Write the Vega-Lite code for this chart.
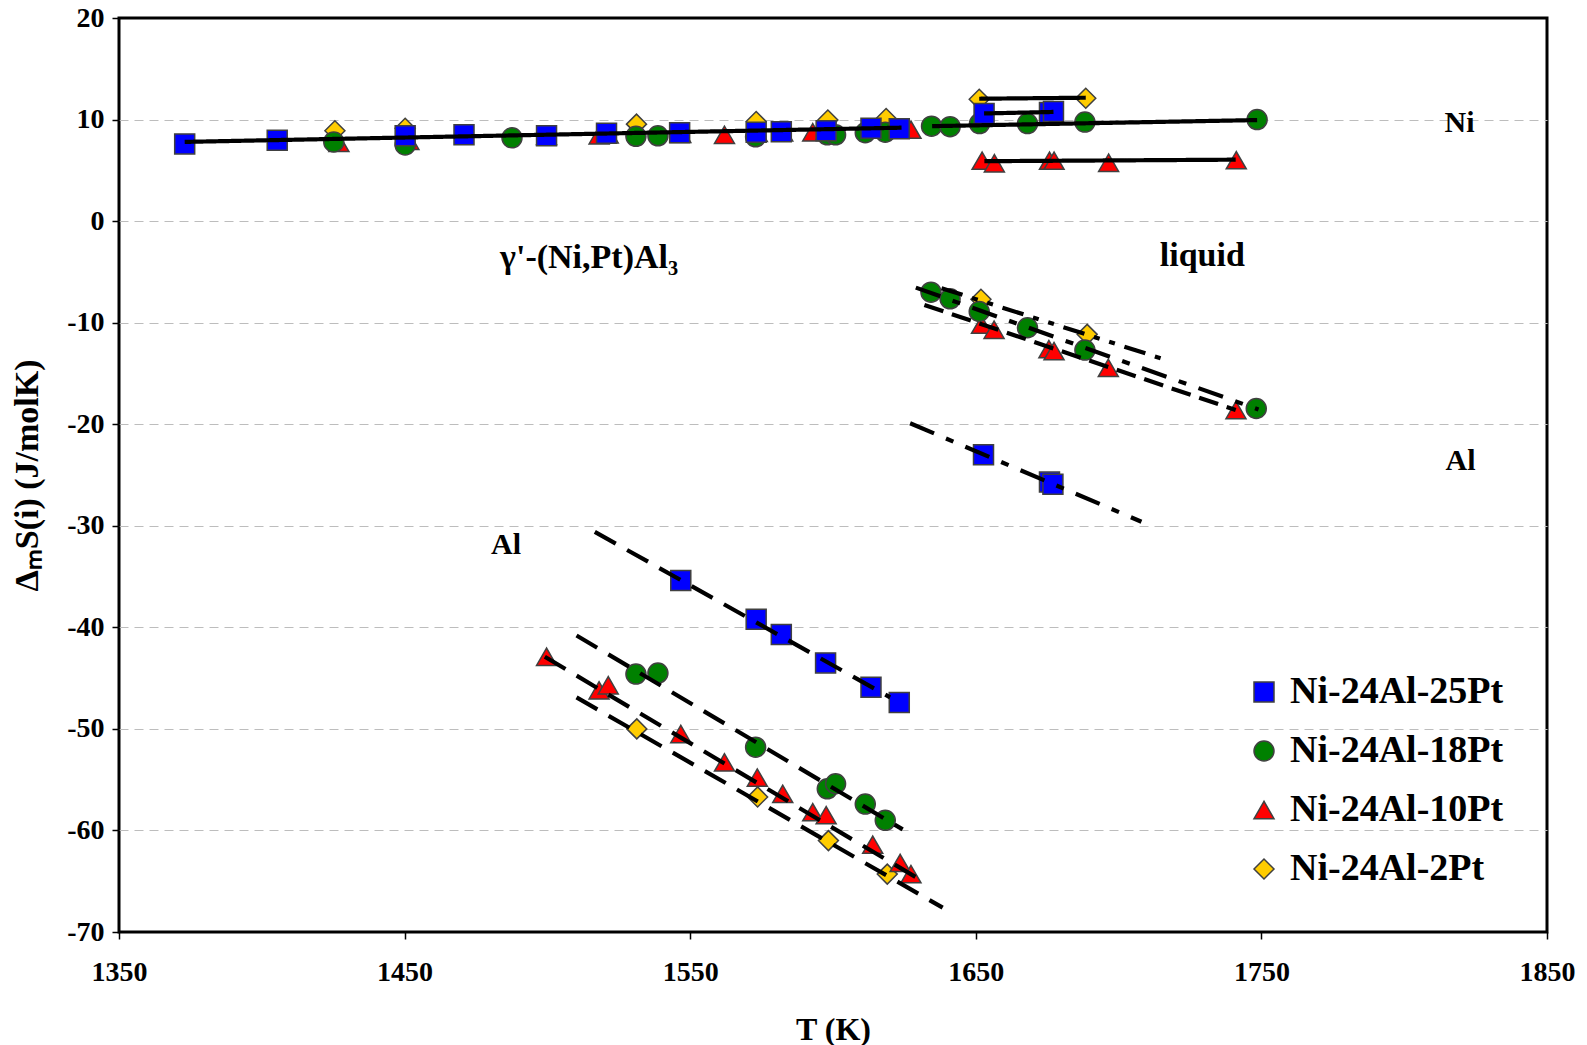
{
  "$schema": "https://vega.github.io/schema/vega-lite/v6.json",
  "autosize": {"type": "none"},
  "padding": {"left": 119, "top": 18, "right": 40, "bottom": 113},
  "width": 1428,
  "height": 914,
  "background": "white",
  "config": {
    "font": "Liberation Serif",
    "view": {"stroke": "black", "strokeWidth": 3},
    "axis": {
      "labelFont": "Liberation Serif", "labelFontWeight": "bold", "labelFontSize": 28, "labelColor": "black",
      "titleFont": "Liberation Serif", "titleFontWeight": "bold", "titleFontSize": 32, "titleColor": "black",
      "tickColor": "black", "tickWidth": 1.5, "tickSize": 7, "domain": false, "labelFlush": false
    },
    "legend": {
      "labelFont": "Liberation Serif", "labelFontWeight": "bold", "labelFontSize": 38, "labelColor": "black", "labelLimit": 0,
      "symbolSize": 400, "symbolStrokeColor": "#404040", "symbolStrokeWidth": 1.5
    }
  },
  "datasets": {
    "pts": [
      {"alloy": "Ni-24Al-2Pt", "T": 1425.6, "S": 8.9},
      {"alloy": "Ni-24Al-2Pt", "T": 1450.2, "S": 9.15},
      {"alloy": "Ni-24Al-2Pt", "T": 1531.2, "S": 9.55},
      {"alloy": "Ni-24Al-2Pt", "T": 1573.1, "S": 9.8},
      {"alloy": "Ni-24Al-2Pt", "T": 1598.2, "S": 9.95},
      {"alloy": "Ni-24Al-2Pt", "T": 1618.6, "S": 10.1},
      {"alloy": "Ni-24Al-2Pt", "T": 1651.2, "S": 12.0},
      {"alloy": "Ni-24Al-2Pt", "T": 1688.5, "S": 12.1},
      {"alloy": "Ni-24Al-2Pt", "T": 1651.8, "S": -7.7},
      {"alloy": "Ni-24Al-2Pt", "T": 1689.0, "S": -11.15},
      {"alloy": "Ni-24Al-2Pt", "T": 1531.3, "S": -50.0},
      {"alloy": "Ni-24Al-2Pt", "T": 1573.6, "S": -56.7},
      {"alloy": "Ni-24Al-2Pt", "T": 1598.4, "S": -61.0},
      {"alloy": "Ni-24Al-2Pt", "T": 1619.0, "S": -64.3},

      {"alloy": "Ni-24Al-10Pt", "T": 1427.0, "S": 7.7},
      {"alloy": "Ni-24Al-10Pt", "T": 1451.5, "S": 7.9},
      {"alloy": "Ni-24Al-10Pt", "T": 1499.7, "S": 8.4},
      {"alloy": "Ni-24Al-10Pt", "T": 1518.1, "S": 8.45},
      {"alloy": "Ni-24Al-10Pt", "T": 1521.3, "S": 8.55},
      {"alloy": "Ni-24Al-10Pt", "T": 1546.7, "S": 8.6},
      {"alloy": "Ni-24Al-10Pt", "T": 1562.0, "S": 8.5},
      {"alloy": "Ni-24Al-10Pt", "T": 1573.5, "S": 8.7},
      {"alloy": "Ni-24Al-10Pt", "T": 1582.4, "S": 8.75},
      {"alloy": "Ni-24Al-10Pt", "T": 1592.9, "S": 8.75},
      {"alloy": "Ni-24Al-10Pt", "T": 1597.6, "S": 8.9},
      {"alloy": "Ni-24Al-10Pt", "T": 1613.9, "S": 9.05},
      {"alloy": "Ni-24Al-10Pt", "T": 1623.5, "S": 9.1},
      {"alloy": "Ni-24Al-10Pt", "T": 1627.3, "S": 9.0},
      {"alloy": "Ni-24Al-10Pt", "T": 1652.2, "S": 5.95},
      {"alloy": "Ni-24Al-10Pt", "T": 1656.5, "S": 5.7},
      {"alloy": "Ni-24Al-10Pt", "T": 1675.8, "S": 5.95},
      {"alloy": "Ni-24Al-10Pt", "T": 1677.4, "S": 5.95},
      {"alloy": "Ni-24Al-10Pt", "T": 1696.5, "S": 5.75},
      {"alloy": "Ni-24Al-10Pt", "T": 1741.2, "S": 6.0},
      {"alloy": "Ni-24Al-10Pt", "T": 1652.0, "S": -10.2},
      {"alloy": "Ni-24Al-10Pt", "T": 1656.4, "S": -10.7},
      {"alloy": "Ni-24Al-10Pt", "T": 1675.6, "S": -12.6},
      {"alloy": "Ni-24Al-10Pt", "T": 1677.4, "S": -12.8},
      {"alloy": "Ni-24Al-10Pt", "T": 1696.4, "S": -14.45},
      {"alloy": "Ni-24Al-10Pt", "T": 1741.1, "S": -18.6},
      {"alloy": "Ni-24Al-10Pt", "T": 1499.7, "S": -42.9},
      {"alloy": "Ni-24Al-10Pt", "T": 1518.1, "S": -46.2},
      {"alloy": "Ni-24Al-10Pt", "T": 1521.3, "S": -45.7},
      {"alloy": "Ni-24Al-10Pt", "T": 1546.7, "S": -50.5},
      {"alloy": "Ni-24Al-10Pt", "T": 1562.0, "S": -53.3},
      {"alloy": "Ni-24Al-10Pt", "T": 1573.5, "S": -54.8},
      {"alloy": "Ni-24Al-10Pt", "T": 1582.4, "S": -56.4},
      {"alloy": "Ni-24Al-10Pt", "T": 1592.9, "S": -58.2},
      {"alloy": "Ni-24Al-10Pt", "T": 1597.6, "S": -58.5},
      {"alloy": "Ni-24Al-10Pt", "T": 1613.9, "S": -61.4},
      {"alloy": "Ni-24Al-10Pt", "T": 1623.5, "S": -63.2},
      {"alloy": "Ni-24Al-10Pt", "T": 1627.3, "S": -64.3},

      {"alloy": "Ni-24Al-18Pt", "T": 1425.2, "S": 7.8},
      {"alloy": "Ni-24Al-18Pt", "T": 1450.2, "S": 7.5},
      {"alloy": "Ni-24Al-18Pt", "T": 1487.6, "S": 8.2},
      {"alloy": "Ni-24Al-18Pt", "T": 1531.0, "S": 8.35},
      {"alloy": "Ni-24Al-18Pt", "T": 1538.7, "S": 8.4},
      {"alloy": "Ni-24Al-18Pt", "T": 1572.9, "S": 8.3},
      {"alloy": "Ni-24Al-18Pt", "T": 1598.0, "S": 8.5},
      {"alloy": "Ni-24Al-18Pt", "T": 1600.9, "S": 8.5},
      {"alloy": "Ni-24Al-18Pt", "T": 1611.3, "S": 8.7},
      {"alloy": "Ni-24Al-18Pt", "T": 1618.3, "S": 8.75},
      {"alloy": "Ni-24Al-18Pt", "T": 1634.5, "S": 9.35},
      {"alloy": "Ni-24Al-18Pt", "T": 1641.0, "S": 9.3},
      {"alloy": "Ni-24Al-18Pt", "T": 1651.3, "S": 9.6},
      {"alloy": "Ni-24Al-18Pt", "T": 1668.1, "S": 9.6},
      {"alloy": "Ni-24Al-18Pt", "T": 1688.2, "S": 9.75},
      {"alloy": "Ni-24Al-18Pt", "T": 1748.5, "S": 10.0},
      {"alloy": "Ni-24Al-18Pt", "T": 1634.3, "S": -7.0},
      {"alloy": "Ni-24Al-18Pt", "T": 1641.0, "S": -7.65},
      {"alloy": "Ni-24Al-18Pt", "T": 1651.2, "S": -8.9},
      {"alloy": "Ni-24Al-18Pt", "T": 1668.1, "S": -10.5},
      {"alloy": "Ni-24Al-18Pt", "T": 1688.2, "S": -12.7},
      {"alloy": "Ni-24Al-18Pt", "T": 1748.2, "S": -18.45},
      {"alloy": "Ni-24Al-18Pt", "T": 1531.0, "S": -44.6},
      {"alloy": "Ni-24Al-18Pt", "T": 1538.7, "S": -44.5},
      {"alloy": "Ni-24Al-18Pt", "T": 1572.9, "S": -51.8},
      {"alloy": "Ni-24Al-18Pt", "T": 1598.0, "S": -55.9},
      {"alloy": "Ni-24Al-18Pt", "T": 1600.9, "S": -55.4},
      {"alloy": "Ni-24Al-18Pt", "T": 1611.3, "S": -57.4},
      {"alloy": "Ni-24Al-18Pt", "T": 1618.3, "S": -59.0},

      {"alloy": "Ni-24Al-25Pt", "T": 1373.0, "S": 7.6},
      {"alloy": "Ni-24Al-25Pt", "T": 1405.4, "S": 7.95},
      {"alloy": "Ni-24Al-25Pt", "T": 1450.2, "S": 8.4},
      {"alloy": "Ni-24Al-25Pt", "T": 1470.8, "S": 8.5},
      {"alloy": "Ni-24Al-25Pt", "T": 1499.7, "S": 8.4},
      {"alloy": "Ni-24Al-25Pt", "T": 1520.7, "S": 8.65},
      {"alloy": "Ni-24Al-25Pt", "T": 1546.3, "S": 8.7},
      {"alloy": "Ni-24Al-25Pt", "T": 1573.1, "S": 8.75},
      {"alloy": "Ni-24Al-25Pt", "T": 1581.9, "S": 8.8},
      {"alloy": "Ni-24Al-25Pt", "T": 1597.6, "S": 8.9},
      {"alloy": "Ni-24Al-25Pt", "T": 1613.3, "S": 9.15},
      {"alloy": "Ni-24Al-25Pt", "T": 1623.2, "S": 9.1},
      {"alloy": "Ni-24Al-25Pt", "T": 1652.9, "S": 10.6},
      {"alloy": "Ni-24Al-25Pt", "T": 1675.8, "S": 10.7},
      {"alloy": "Ni-24Al-25Pt", "T": 1677.2, "S": 10.8},
      {"alloy": "Ni-24Al-25Pt", "T": 1652.7, "S": -23.0},
      {"alloy": "Ni-24Al-25Pt", "T": 1675.8, "S": -25.7},
      {"alloy": "Ni-24Al-25Pt", "T": 1677.0, "S": -25.9},
      {"alloy": "Ni-24Al-25Pt", "T": 1546.7, "S": -35.4},
      {"alloy": "Ni-24Al-25Pt", "T": 1573.1, "S": -39.2},
      {"alloy": "Ni-24Al-25Pt", "T": 1581.9, "S": -40.7},
      {"alloy": "Ni-24Al-25Pt", "T": 1597.4, "S": -43.5},
      {"alloy": "Ni-24Al-25Pt", "T": 1613.3, "S": -45.9},
      {"alloy": "Ni-24Al-25Pt", "T": 1623.2, "S": -47.4}
    ],
    "fits": [
      {"seg": "Ni-s", "style": "solid", "T": 1373.0, "S": 7.8},
      {"seg": "Ni-s", "style": "solid", "T": 1624.0, "S": 9.2},
      {"seg": "Ni-l-2", "style": "solid", "T": 1651.2, "S": 12.05},
      {"seg": "Ni-l-2", "style": "solid", "T": 1688.5, "S": 12.15},
      {"seg": "Ni-l-25", "style": "solid", "T": 1652.9, "S": 10.6},
      {"seg": "Ni-l-25", "style": "solid", "T": 1677.2, "S": 10.75},
      {"seg": "Ni-l-18", "style": "solid", "T": 1634.7, "S": 9.35},
      {"seg": "Ni-l-18", "style": "solid", "T": 1748.5, "S": 9.95},
      {"seg": "Ni-l-10", "style": "solid", "T": 1653.0, "S": 5.9},
      {"seg": "Ni-l-10", "style": "solid", "T": 1741.0, "S": 6.05},
      {"seg": "Al-s-25", "style": "dash", "T": 1516.6, "S": -30.6},
      {"seg": "Al-s-25", "style": "dash", "T": 1620.0, "S": -46.9},
      {"seg": "Al-s-18", "style": "dash", "T": 1510.2, "S": -40.8},
      {"seg": "Al-s-18", "style": "dash", "T": 1624.4, "S": -59.9},
      {"seg": "Al-s-10", "style": "dash", "T": 1499.1, "S": -42.9},
      {"seg": "Al-s-10", "style": "dash", "T": 1629.0, "S": -64.6},
      {"seg": "Al-s-2", "style": "dash", "T": 1510.2, "S": -46.9},
      {"seg": "Al-s-2", "style": "dash", "T": 1638.4, "S": -67.6},
      {"seg": "Al-l-25", "style": "dashdot", "T": 1627.0, "S": -19.9},
      {"seg": "Al-l-25", "style": "dashdot", "T": 1708.0, "S": -29.6},
      {"seg": "Al-l-18", "style": "dashdot", "T": 1629.0, "S": -6.55},
      {"seg": "Al-l-18", "style": "dashdot", "T": 1749.0, "S": -18.55},
      {"seg": "Al-l-10", "style": "longdash", "T": 1632.0, "S": -8.25},
      {"seg": "Al-l-10", "style": "longdash", "T": 1741.0, "S": -18.6},
      {"seg": "Al-l-2", "style": "dashdotdot", "T": 1638.0, "S": -6.6},
      {"seg": "Al-l-2", "style": "dashdotdot", "T": 1718.0, "S": -13.8}
    ],
    "notes": [
      {"kind": "element", "T": 1819.4, "S": 9.65, "text": "Ni"},
      {"kind": "phase", "T": 1514.6, "S": -3.6, "text": "γ'-(Ni,Pt)Al₃"},
      {"kind": "phase", "T": 1729.3, "S": -3.4, "text": "liquid"},
      {"kind": "element", "T": 1819.7, "S": -23.6, "text": "Al"},
      {"kind": "element", "T": 1485.5, "S": -31.9, "text": "Al"}
    ]
  },
  "layer": [
    {
      "data": {"name": "pts"},
      "mark": {"type": "point", "filled": true, "size": 400, "stroke": "#404040", "strokeWidth": 1.5, "opacity": 1},
      "encoding": {
        "x": {
          "field": "T", "type": "quantitative",
          "scale": {"domain": [1350, 1850], "nice": false, "zero": false},
          "axis": {
            "values": [1350, 1450, 1550, 1650, 1750, 1850], "labelExpr": "'' + datum.value", "grid": false,
            "labelPadding": 19, "title": "T (K)",
            "titleX": 714, "titleY": 97, "titleBaseline": "middle", "titleAlign": "center"
          }
        },
        "y": {
          "field": "S", "type": "quantitative",
          "scale": {"domain": [-70, 20], "nice": false, "zero": false},
          "axis": {
            "values": [-70, -60, -50, -40, -30, -20, -10, 0, 10, 20], "labelExpr": "'' + datum.value",
            "grid": true, "gridColor": "#bdbdbd", "gridDash": [9, 6], "gridWidth": 1,
            "gridOpacity": {"condition": {"test": "datum.value === 20 || datum.value === -70", "value": 0}, "value": 1},
            "labelPadding": 8,
            "title": "ΔₘS(i) (J/molK)",
            "titleFontSize": 34,
            "titleAngle": -90, "titleX": -92, "titleY": 457, "titleAlign": "center", "titleBaseline": "middle"
          }
        },
        "shape": {
          "field": "alloy", "type": "nominal",
          "scale": {"domain": ["Ni-24Al-25Pt", "Ni-24Al-18Pt", "Ni-24Al-10Pt", "Ni-24Al-2Pt"], "range": ["square", "circle", "triangle-up", "diamond"]},
          "legend": {"title": null, "orient": "none", "legendX": 1126, "legendY": 655, "padding": 0, "rowPadding": 21, "labelOffset": 7}
        },
        "color": {
          "field": "alloy", "type": "nominal",
          "scale": {"domain": ["Ni-24Al-25Pt", "Ni-24Al-18Pt", "Ni-24Al-10Pt", "Ni-24Al-2Pt"], "range": ["#0000FF", "#008000", "#FF0000", "#FFCC00"]},
          "legend": {"title": null, "orient": "none", "legendX": 1126, "legendY": 655, "padding": 0, "rowPadding": 21, "labelOffset": 7}
        }
      }
    },
    {
      "data": {"name": "fits"},
      "mark": {"type": "line", "color": "black", "strokeWidth": 4.2, "strokeCap": "butt"},
      "encoding": {
        "x": {"field": "T", "type": "quantitative"},
        "y": {"field": "S", "type": "quantitative"},
        "detail": {"field": "seg", "type": "nominal"},
        "strokeDash": {
          "field": "style", "type": "nominal",
          "scale": {"domain": ["solid", "dash", "dashdot", "longdash", "dashdotdot"], "range": [[1, 0], [24, 13], [26, 13, 8, 13], [20, 9], [22, 10, 6, 10, 6, 10]]},
          "legend": null
        }
      }
    },
    {
      "data": {"name": "notes"},
      "transform": [{"filter": "datum.kind === 'element'"}],
      "mark": {"type": "text", "font": "Liberation Serif", "fontWeight": "bold", "fontSize": 30, "align": "center", "baseline": "middle", "color": "black"},
      "encoding": {
        "x": {"field": "T", "type": "quantitative"},
        "y": {"field": "S", "type": "quantitative"},
        "text": {"field": "text", "type": "nominal"}
      }
    },
    {
      "data": {"name": "notes"},
      "transform": [{"filter": "datum.kind === 'phase'"}],
      "mark": {"type": "text", "font": "Liberation Serif", "fontWeight": "bold", "fontSize": 34, "align": "center", "baseline": "middle", "color": "black"},
      "encoding": {
        "x": {"field": "T", "type": "quantitative"},
        "y": {"field": "S", "type": "quantitative"},
        "text": {"field": "text", "type": "nominal"}
      }
    }
  ]
}
